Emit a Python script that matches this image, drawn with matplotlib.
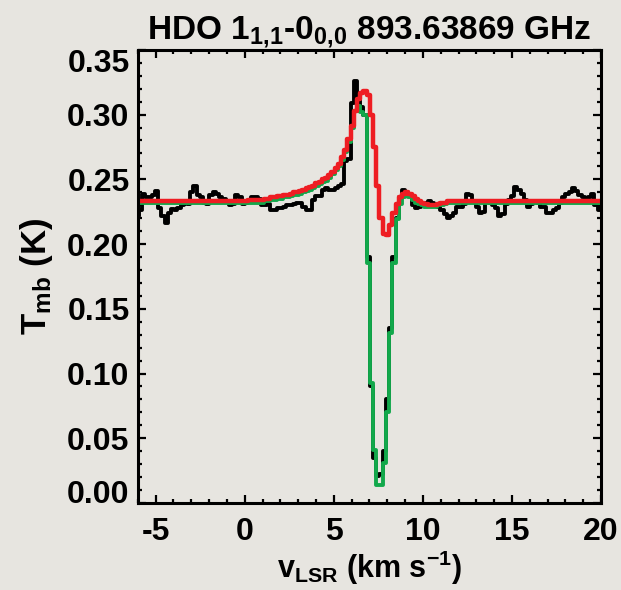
"""
HDO 1(1,1)-0(0,0) line: observed spectrum with two model fits
"""
import numpy as np
import matplotlib.pyplot as plt
from matplotlib.ticker import MultipleLocator
from matplotlib.transforms import ScaledTranslation

plt.rcParams['font.family'] = ['Liberation Sans', 'DejaVu Sans']
plt.rcParams['font.weight'] = 'bold'
plt.rcParams['axes.labelweight'] = 'bold'
plt.rcParams['axes.unicode_minus'] = False
plt.rcParams['mathtext.fontset'] = 'custom'
plt.rcParams['mathtext.rm'] = 'Liberation Sans:bold'
plt.rcParams['mathtext.it'] = 'Liberation Sans:bold'
plt.rcParams['mathtext.bf'] = 'Liberation Sans:bold'

# channel grid (km/s)
v_start = -6.03
dv = 0.18

# observed spectrum, T_mb (K)
t_obs = [
    0.222, 0.226, 0.239, 0.236, 0.236, 0.238, 0.241, 0.228, 0.222, 0.216,
    0.224, 0.227, 0.226, 0.228, 0.230, 0.232, 0.231, 0.240, 0.245, 0.238,
    0.236, 0.232, 0.231, 0.238, 0.240, 0.239, 0.236, 0.235, 0.233, 0.230,
    0.231, 0.238, 0.236, 0.231, 0.232, 0.234, 0.236, 0.236, 0.235, 0.230,
    0.230, 0.231, 0.226, 0.226, 0.228, 0.228, 0.229, 0.230, 0.230, 0.231,
    0.232, 0.232, 0.229, 0.226, 0.226, 0.234, 0.237, 0.237, 0.242, 0.243,
    0.242, 0.242, 0.243, 0.245, 0.246, 0.264, 0.266, 0.309, 0.326, 0.312,
    0.306, 0.300, 0.190, 0.090, 0.035, 0.021, 0.022, 0.040, 0.080, 0.135,
    0.190, 0.220, 0.236, 0.242, 0.240, 0.237, 0.230, 0.228, 0.229, 0.230,
    0.232, 0.233, 0.232, 0.231, 0.229, 0.226, 0.223, 0.220, 0.222, 0.224,
    0.229, 0.229, 0.231, 0.239, 0.238, 0.233, 0.229, 0.224, 0.225, 0.233,
    0.232, 0.230, 0.228, 0.222, 0.223, 0.231, 0.234, 0.237, 0.244, 0.242,
    0.239, 0.234, 0.229, 0.231, 0.233, 0.232, 0.229, 0.229, 0.224, 0.224,
    0.226, 0.228, 0.232, 0.236, 0.239, 0.240, 0.243, 0.241, 0.238, 0.236,
    0.233, 0.236, 0.239, 0.230, 0.226, 0.228,
]

# model with absorbing foreground layer
t_green = [0.2318] * 35 + [
    0.232, 0.232, 0.232, 0.232, 0.232, 0.233, 0.233, 0.234, 0.234, 0.235,
    0.235, 0.236, 0.236, 0.237, 0.238, 0.238, 0.239, 0.240, 0.241, 0.242,
    0.243, 0.245, 0.246, 0.248, 0.249, 0.251, 0.254, 0.257, 0.260, 0.265,
    0.271, 0.279, 0.290, 0.303, 0.307, 0.302, 0.300, 0.185, 0.093, 0.041,
    0.014, 0.014, 0.031, 0.070, 0.131, 0.185, 0.219, 0.231, 0.236, 0.237,
    0.236, 0.234, 0.232, 0.231, 0.230, 0.229, 0.229, 0.229, 0.229, 0.230,
    0.230, 0.231,
] + [0.2318] * 49

# model without foreground layer
t_red = [0.233] * 35 + [
    0.234, 0.234, 0.234, 0.234, 0.234, 0.235, 0.235, 0.236, 0.236, 0.237,
    0.237, 0.238, 0.238, 0.239, 0.240, 0.240, 0.241, 0.242, 0.243, 0.244,
    0.245, 0.247, 0.248, 0.250, 0.251, 0.253, 0.256, 0.259, 0.262, 0.267,
    0.273, 0.281, 0.291, 0.303, 0.312, 0.317, 0.318, 0.315, 0.300, 0.275,
    0.245, 0.220, 0.208, 0.207, 0.215, 0.224, 0.231, 0.236, 0.239, 0.240,
    0.239, 0.237, 0.235, 0.233, 0.232, 0.231, 0.230, 0.230, 0.230, 0.231,
    0.232, 0.232,
] + [0.233] * 49

v = v_start + dv * np.arange(len(t_obs))

fig = plt.figure(figsize=(6.21, 5.90), dpi=100)
fig.patch.set_facecolor('#e7e5e0')
ax = fig.add_axes([0.222, 0.1475, 0.746, 0.768])
ax.set_facecolor('#e7e5e0')

ax.step(v, t_obs, where='mid', color='black', lw=2.8)
ax.step(v, t_green, where='mid', color='#12a84b', lw=2.8)
ax.step(v, t_red, where='mid', color='#ee1d23', lw=3.2)

ax.xaxis.set_major_locator(MultipleLocator(5))
ax.xaxis.set_minor_locator(MultipleLocator(1))
ax.set_yticks([0.0, 0.05, 0.10, 0.15, 0.20, 0.25, 0.30, 0.35])
ax.yaxis.set_minor_locator(MultipleLocator(0.01))
ax.yaxis.set_major_formatter(plt.FormatStrFormatter('%.2f'))
ax.set_xlim(-6, 20)
ax.set_ylim(0, 0.35)

ax.tick_params(which='both', direction='in', top=True, right=True,
               width=1.6, labelsize=23)
ax.tick_params(which='major', length=6)
ax.tick_params(which='minor', length=3)
ax.tick_params(axis='x', pad=10)
ax.tick_params(axis='y', pad=6)
for s in ax.spines.values():
    s.set_linewidth(2.2)

# nudge the end labels inward so they stay within the frame height
yticks = ax.yaxis.get_major_ticks()
lab0 = yticks[0].label1
lab0.set_transform(lab0.get_transform()
                   + ScaledTranslation(0, 8 / 72, fig.dpi_scale_trans))
lab1 = yticks[-1].label1
lab1.set_transform(lab1.get_transform()
                   + ScaledTranslation(0, -8 / 72, fig.dpi_scale_trans))

ax.set_title(r'HDO 1$_{1,\!1}$-0$_{0,\!0}$ 893.63869 GHz', fontsize=24,
             fontweight='bold', pad=2)
ax.set_xlabel(r'v$_{\rm LSR}$ (km s$^{-1}$)', fontsize=22, labelpad=1)
ax.set_ylabel(r'T$_{\rm mb}$ (K)', fontsize=25, labelpad=9)

plt.savefig('out.png', dpi=100, facecolor=fig.get_facecolor())
